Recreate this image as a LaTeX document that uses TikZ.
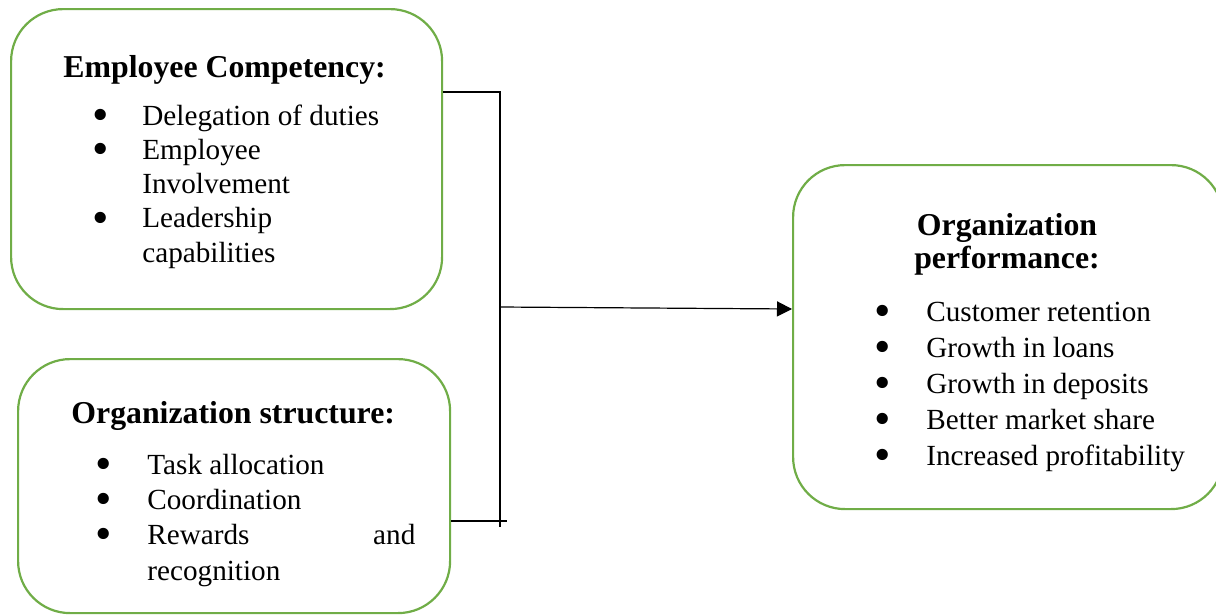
\documentclass[tikz,border=0pt]{standalone}
\usepackage{fontspec}
\setmainfont{Liberation Serif}
\usetikzlibrary{arrows.meta}
\definecolor{boxgreen}{HTML}{70AD47}
% list item: an enlarged bullet in a fixed-width box, then the text
\newcommand{\bigbul}{\smash{\raisebox{-2.6pt}{\fontsize{23.5}{0}\selectfont\textbullet}}}
\newcommand{\bul}[2]{\makebox[#1][l]{\hspace*{-1pt}\bigbul}#2}
\begin{document}
\begin{tikzpicture}[x=0.5pt,y=-0.5pt,
  card/.style={draw=boxgreen,line width=1.1pt,rounded corners=26pt,
    anchor=north west,inner sep=0pt,fill=white},
  head/.style={font=\fontsize{15.9}{16.5}\selectfont\bfseries,inner sep=0pt},
  items/.style={align=left,inner sep=0pt,anchor=base west},
  link/.style={line width=0.6pt,black}]
\useasboundingbox (0,0) rectangle (1216,616);

% the three boxes
\node[card,minimum width=215.5pt,minimum height=150pt] (b1) at (10,8) {};
\node[card,minimum width=216pt,minimum height=127pt] (b2) at (17,358) {};
\node[card,minimum width=215pt,minimum height=172pt] (b3) at (792,164) {};

% employee competency (list placed by the baseline of its last line)
\node[head,anchor=base west] (t1) at (63,77) {Employee Competency:};
\node[items,font=\fontsize{14.6}{17.1}\selectfont] (l1) at (94,262)
  {\bul{24pt}{Delegation of duties}\\
   \bul{24pt}{Employee}\\
   \hspace*{24pt}Involvement\\
   \bul{24pt}{Leadership}\\
   \hspace*{24pt}capabilities};

% organization structure
\node[head,anchor=base west] (t2) at (71,423) {Organization structure:};
\node[items,font=\fontsize{14.6}{17.65}\selectfont] (l2) at (97,580)
  {\bul{25pt}{Task allocation}\\
   \bul{25pt}{Coordination}\\
   \bul{25pt}{\makebox[134pt][s]{Rewards\hfill and}}\\
   \hspace*{25pt}recognition};

% organization performance
\node[head,align=center,anchor=base] (t3) at (1007,268)
  {Organization\\performance:};
\node[items,font=\fontsize{14.6}{18}\selectfont] (l3) at (876,465)
  {\bul{25pt}{Customer retention}\\
   \bul{25pt}{Growth in loans}\\
   \bul{25pt}{Growth in deposits}\\
   \bul{25pt}{Better market share}\\
   \bul{25pt}{Increased profitability}};

% connectors
\coordinate (jt) at (500,92);
\coordinate (jb) at (500,527);
\coordinate (jr) at (507,521);
\coordinate (jm) at (500,307);
\coordinate (ah) at (792,309);
\draw[link] (b1.east |- jt) -- (jt) -- (jb);
\draw[link] (b2.east |- jr) -- (jr);
\draw[link,-{Triangle[length=7.5pt,width=7.5pt]}] (jm) -- (ah);
\end{tikzpicture}
\end{document}
